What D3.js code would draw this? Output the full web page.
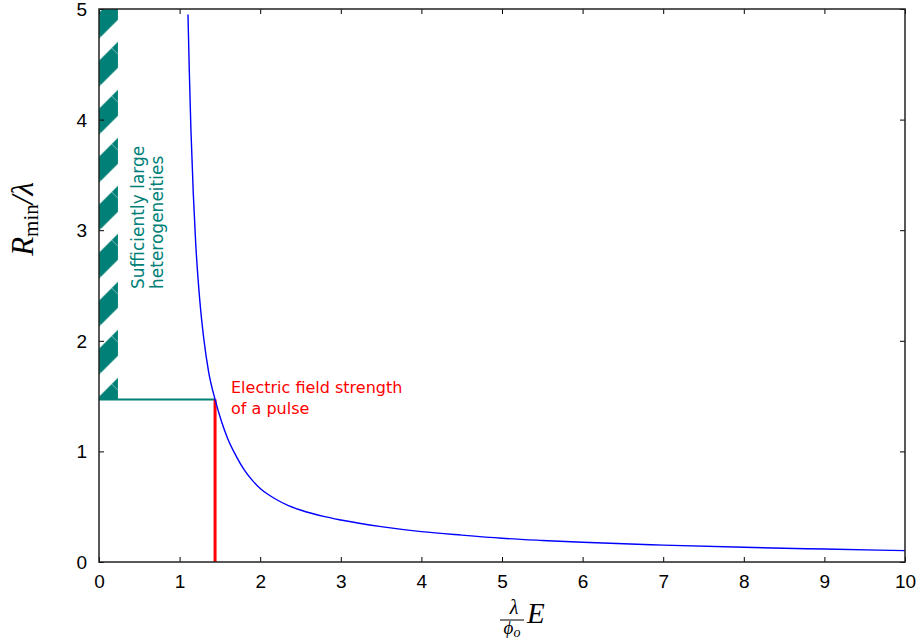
<!DOCTYPE html>
<html><head><meta charset="utf-8">
<script src="https://cdn.jsdelivr.net/npm/d3@7"></script>
<style>body{margin:0;background:#fff}svg{display:block}</style>
</head><body>
<svg id="chart" width="922" height="640"></svg>
<script>
// ---- data ----
const curveX = [1.104,1.12,1.14,1.17,1.20,1.25,1.30,1.36,1.44,1.52,1.60,1.70,1.80,1.90,2.0,2.1,2.2,2.35,2.5,2.8,3.0,3.5,4.0,4.5,5.0,5.5,6.0,7.0,8.0,9.0,10.0];
const curveY = [4.95,4.45,3.92,3.33,2.88,2.37,2.02,1.72,1.47,1.27,1.11,0.96,0.835,0.74,0.665,0.61,0.565,0.51,0.47,0.41,0.38,0.32,0.275,0.243,0.215,0.195,0.178,0.153,0.133,0.117,0.103];
const xTicks = [0,1,2,3,4,5,6,7,8,9,10];
const yTicks = [0,1,2,3,4,5];
const xDomain = [0,10];
const yDomain = [0,5];
const pulseE = 1.44;     // red vertical marker
const pulseR = 1.47;     // teal horizontal marker
const hatchX = [0, 0.235];
const hatchY = [1.47, 5];
const pulseLabel = ["Electric field strength","of a pulse"];
const hetLabel = ["Sufficiently large","heterogeneities"];

const svg = d3.select("#chart");
const x = d3.scaleLinear().domain(xDomain).range([99,905]);
const y = d3.scaleLinear().domain(yDomain).range([562,9]);
const teal = "#008077";

// hatch pattern
const defs = svg.append("defs");
const pat = defs.append("pattern").attr("id","hatch").attr("patternUnits","userSpaceOnUse")
  .attr("x",15.7).attr("y",0).attr("width",48).attr("height",48);
pat.append("rect").attr("width",48).attr("height",48).attr("fill","#fff");
pat.append("polygon").attr("points","0,0 26,0 0,26").attr("fill",teal);
pat.append("polygon").attr("points","0,48 48,0 48,26 26,48").attr("fill",teal);
pat.append("line").attr("x1",0).attr("y1",0).attr("x2",48).attr("y2",48)
  .attr("stroke","rgba(255,255,255,0.45)").attr("stroke-width",1);

svg.append("rect")
  .attr("x",x(hatchX[0])).attr("y",y(hatchY[1]))
  .attr("width",x(hatchX[1])-x(hatchX[0])).attr("height",y(hatchY[0])-y(hatchY[1]))
  .attr("fill","url(#hatch)");

// markers
svg.append("line").attr("x1",x(0)).attr("x2",x(pulseE)).attr("y1",y(pulseR)).attr("y2",y(pulseR))
  .attr("stroke",teal).attr("stroke-width",2);
svg.append("line").attr("x1",x(pulseE)).attr("x2",x(pulseE)).attr("y1",y(0)).attr("y2",y(pulseR))
  .attr("stroke","#ff0000").attr("stroke-width",3);

// curve
const pts = curveX.map((v,i)=>[v,curveY[i]]);
svg.append("path").datum(pts)
  .attr("d", d3.line().x(d=>x(d[0])).y(d=>y(d[1])).curve(d3.curveMonotoneX))
  .attr("fill","none").attr("stroke","#0000ff").attr("stroke-width",1.4);

// axes
const tickFont = "'Liberation Sans', Arial, sans-serif";
const gB = svg.append("g").attr("transform",`translate(0,${y(0)})`)
  .call(d3.axisBottom(x).tickValues(xTicks).tickSize(-5).tickPadding(13).tickFormat(d3.format("d")));
const gL = svg.append("g").attr("transform",`translate(${x(0)},0)`)
  .call(d3.axisLeft(y).tickValues(yTicks).tickSize(-5).tickPadding(12).tickFormat(d3.format("d")));
const gT = svg.append("g").attr("transform",`translate(0,${y(5)})`)
  .call(d3.axisTop(x).tickValues(xTicks).tickSize(-5).tickFormat(""));
const gR = svg.append("g").attr("transform",`translate(${x(10)},0)`)
  .call(d3.axisRight(y).tickValues(yTicks).tickSize(-5).tickFormat(""));
[gB,gL,gT,gR].forEach(g=>{
  g.select(".domain").remove();
  g.selectAll(".tick line").attr("stroke","#000").attr("stroke-width",1);
  g.selectAll("text").attr("font-family",tickFont).attr("font-size",19).attr("fill","#000");
});
gL.selectAll(".tick text").attr("dy","0.34em");

// frame
svg.append("rect").attr("x",x(0)).attr("y",y(5)).attr("width",x(10)-x(0)).attr("height",y(0)-y(5))
  .attr("fill","none").attr("stroke","#222").attr("stroke-width",1.5);

// annotations
const annFont = "'DejaVu Sans', sans-serif";
svg.append("text").attr("font-family",annFont).attr("font-size",16).attr("fill","#ff0000")
  .selectAll("tspan").data(pulseLabel).join("tspan")
  .attr("x",231).attr("y",(d,i)=>393+i*21).text(d=>d);
const ht = svg.append("text").attr("font-family",annFont).attr("font-size",17).attr("fill",teal)
  .attr("transform","rotate(-90)");
ht.selectAll("tspan").data(hetLabel).join("tspan")
  .attr("x",-289).attr("y",(d,i)=>144+i*19).text(d=>d);

// axis titles
const serif = "'Liberation Serif', 'DejaVu Serif', serif";
const yl = svg.append("text").attr("font-family",serif).attr("font-size",31).attr("text-anchor","middle")
  .attr("transform","translate(33,219) rotate(-90)");
yl.append("tspan").attr("font-style","italic").text("R");
yl.append("tspan").attr("font-size",21).attr("dy",5).text("min");
yl.append("tspan").attr("font-style","italic").attr("dy",-5).text("/λ");

const xl = svg.append("g").attr("font-family",serif);
xl.append("text").attr("x",514).attr("y",614).attr("text-anchor","middle").attr("font-size",20).attr("font-style","italic").text("λ");
xl.append("line").attr("x1",500).attr("x2",524).attr("y1",620).attr("y2",620).attr("stroke","#000").attr("stroke-width",1);
const phi = xl.append("text").attr("x",512).attr("y",634).attr("text-anchor","middle").attr("font-size",19).attr("font-style","italic");
phi.append("tspan").text("ϕ");
phi.append("tspan").attr("font-size",14).attr("dy",3).text("o");
xl.append("text").attr("x",527).attr("y",623).attr("font-size",29).attr("font-style","italic").text("E");
</script>
</body></html>
